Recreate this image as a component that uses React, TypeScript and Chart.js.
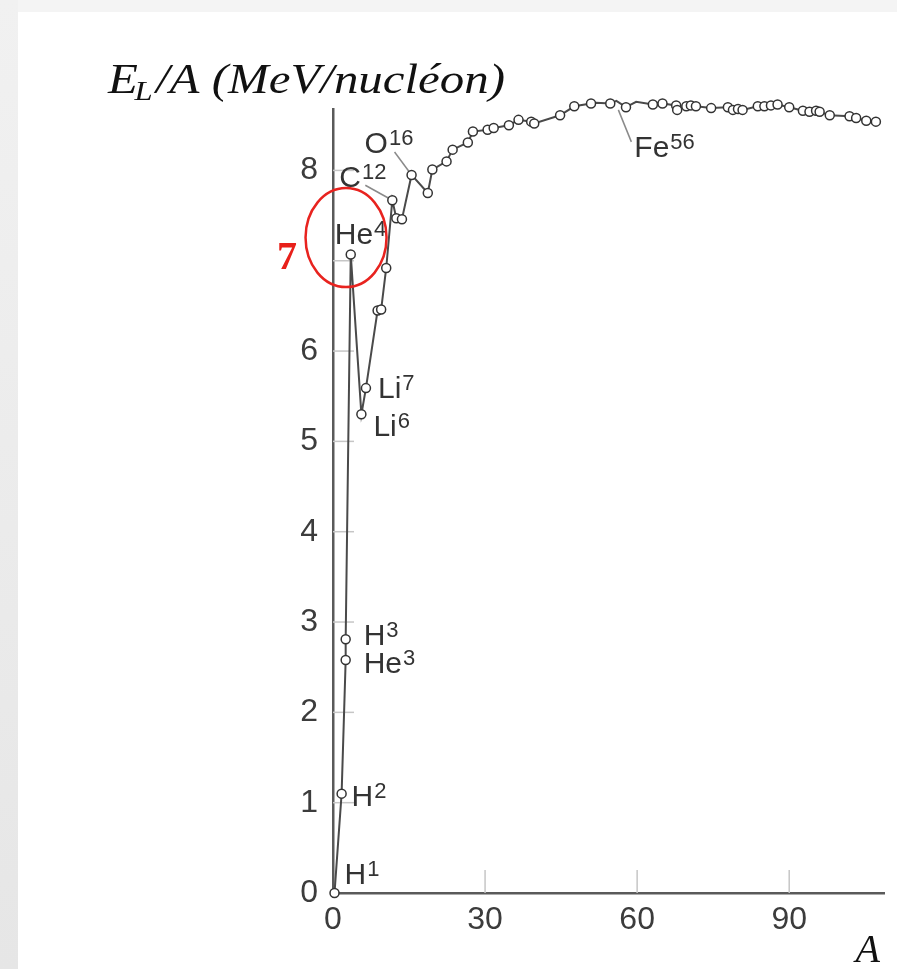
import React, { useEffect, useRef } from "react";
import { Chart, registerables } from "chart.js";

Chart.register(...registerables);

// Mass number A of each plotted nucleus
const massNumberA = [
  0.3, 1.7, 2.5, 2.5, 3.5, 5.6, 6.5, 8.8, 9.5, 10.5,
  11.7, 12.5, 13.6, 15.5, 18.7, 19.6, 22.4, 23.6, 26.6, 27.6,
  30.5, 31.7, 34.7, 36.6, 39.1, 39.7, 44.8, 47.6, 50.9, 51.9,
  54.7, 55.9, 57.8, 59.8, 63.1, 64.1, 65.0, 67.7, 67.9, 69.7,
  70.6, 71.6, 74.6, 77.9, 78.9, 79.9, 80.8, 83.8, 85.1, 86.4,
  87.7, 90.0, 92.7, 94.0, 95.3, 96.0, 98.0, 101.9, 103.2, 105.2,
  107.1,
];

// Binding energy per nucleon E_L/A (MeV)
const bindingPerNucleon = [
  0.0, 1.1, 2.58, 2.81, 7.07, 5.3, 5.59, 6.45, 6.46, 6.92,
  7.67, 7.47, 7.46, 7.95, 7.75, 8.01, 8.1, 8.23, 8.31, 8.43,
  8.45, 8.47, 8.5, 8.56, 8.54, 8.52, 8.61, 8.71, 8.74, 8.75,
  8.74, 8.77, 8.7, 8.76, 8.73, 8.75, 8.74, 8.72, 8.67, 8.71,
  8.72, 8.71, 8.69, 8.7, 8.67, 8.68, 8.67, 8.71, 8.71, 8.72,
  8.73, 8.7, 8.66, 8.65, 8.66, 8.65, 8.61, 8.6, 8.58, 8.55,
  8.54,
];

const yTickValues = [0, 1, 2, 3, 4, 5, 6, 7, 8];
const yTickLabels = ["0", "1", "2", "3", "4", "5", "6", "", "8"];
const xTickValues = [0, 30, 60, 90];
const xTickLabels = ["0", "30", "60", "90"];

const nuclideKeys = ["H1", "H2", "H3", "He3", "He4", "Li6", "Li7", "C12", "O16", "Fe56"];
const nuclideSymbols = ["H", "H", "H", "He", "He", "Li", "Li", "C", "O", "Fe"];
const nuclideMasses = ["1", "2", "3", "3", "4", "6", "7", "12", "16", "56"];
const nuclidePointIndex = [0, 1, 3, 2, 4, 5, 6, 10, 13, 31];

const titleMain = "E";
const titleSub = "L";
const titleRest = "/A (MeV/nucléon)";
const xAxisTitle = "A";
const highlightedValue = 7;
const highlightedLabel = "7";

const labelOffsets: Record<string, [number, number]> = {
  H1: [10, -9],
  H2: [10, 12],
  H3: [18, 6],
  He3: [18, 13],
  He4: [-16, -10],
  Li6: [12, 22],
  Li7: [12, 10],
  C12: [-53, -13],
  O16: [-47, -22],
  Fe56: [18, 56],
};

const leaderOffsets: Record<string, [number, number, number, number]> = {
  C12: [-27, -15, 0, 0],
  O16: [-17, -23, 0, 0],
  Fe56: [2, 9, 15, 41],
};

export default function App() {
  const ref = useRef<HTMLCanvasElement>(null);

  useEffect(() => {
    const canvas = ref.current;
    if (!canvas) return;
    const points = massNumberA.map((a, i) => ({ x: a, y: bindingPerNucleon[i] }));

    const pointPixel = (chart: any, idx: number) => {
      const xs = chart.scales.x;
      const ys = chart.scales.y;
      return [xs.getPixelForValue(massNumberA[idx]), ys.getPixelForValue(bindingPerNucleon[idx])];
    };

    const under = {
      id: "under",
      beforeDatasetsDraw(chart: any) {
        const ctx = chart.ctx;
        const area = chart.chartArea;
        const xs = chart.scales.x;
        const ys = chart.scales.y;
        ctx.save();
        ctx.strokeStyle = "#c6c6c6";
        ctx.lineWidth = 1.5;
        yTickValues.forEach((v) => {
          if (v === 0) return;
          const y = ys.getPixelForValue(v);
          ctx.beginPath();
          ctx.moveTo(area.left, y);
          ctx.lineTo(area.left + 21, y);
          ctx.stroke();
        });
        xTickValues.forEach((v) => {
          if (v === 0) return;
          const x = xs.getPixelForValue(v);
          ctx.beginPath();
          ctx.moveTo(x, area.bottom);
          ctx.lineTo(x, area.bottom - 23);
          ctx.stroke();
        });
        // leader lines
        ctx.strokeStyle = "#8a8a8a";
        ctx.lineWidth = 1.5;
        nuclideKeys.forEach((k, i) => {
          const lo = leaderOffsets[k];
          if (!lo) return;
          const [px, py] = pointPixel(chart, nuclidePointIndex[i]);
          ctx.beginPath();
          ctx.moveTo(px + lo[0], py + lo[1]);
          ctx.lineTo(px + lo[2], py + lo[3]);
          ctx.stroke();
        });
        ctx.restore();
      },
    };

    const annot = {
      id: "annot",
      afterDatasetsDraw(chart: any) {
        const ctx = chart.ctx;
        const ys = chart.scales.y;
        const area = chart.chartArea;
        ctx.save();
        ctx.fillStyle = "#333";
        ctx.textBaseline = "alphabetic";
        ctx.textAlign = "left";
        nuclideKeys.forEach((k, i) => {
          const [px, py] = pointPixel(chart, nuclidePointIndex[i]);
          const off = labelOffsets[k];
          const x = px + off[0];
          const y = py + off[1];
          ctx.font = "30px 'Liberation Sans', Arial, sans-serif";
          ctx.fillText(nuclideSymbols[i], x, y);
          const w = ctx.measureText(nuclideSymbols[i]).width;
          ctx.font = "22px 'Liberation Sans', Arial, sans-serif";
          ctx.fillText(nuclideMasses[i], x + w + 1, y - 8);
        });

        // red ellipse around He4
        const [hx, hy] = pointPixel(chart, 4);
        ctx.strokeStyle = "#e8231f";
        ctx.lineWidth = 2.5;
        ctx.beginPath();
        ctx.ellipse(hx - 4.7, hy - 16.8, 40.5, 49.5, 0, 0, Math.PI * 2);
        ctx.stroke();

        // red highlighted tick value
        ctx.fillStyle = "#e8201a";
        ctx.font = "bold 40px 'Liberation Serif', 'Times New Roman', serif";
        ctx.textAlign = "right";
        ctx.fillText(highlightedLabel, area.left - 36, ys.getPixelForValue(highlightedValue) + 8);

        // y axis title
        ctx.fillStyle = "#111";
        ctx.textAlign = "left";
        const mainFont = "italic 42px 'Liberation Serif', 'Times New Roman', serif";
        const subFont = "italic 28px 'Liberation Serif', 'Times New Roman', serif";
        ctx.font = mainFont;
        const wE = ctx.measureText(titleMain).width;
        const wR = ctx.measureText(titleRest).width;
        ctx.font = subFont;
        const wL = ctx.measureText(titleSub).width;
        const total = wE + wL + wR;
        const sx = 397 / total;
        ctx.translate(108, 93);
        ctx.scale(sx, 1);
        ctx.font = mainFont;
        ctx.fillText(titleMain, 0, 0);
        ctx.font = subFont;
        ctx.fillText(titleSub, wE - 3, 7);
        ctx.font = mainFont;
        ctx.fillText(titleRest, wE + wL, 0);
        ctx.restore();

        // x axis title
        ctx.save();
        ctx.fillStyle = "#111";
        ctx.textAlign = "right";
        ctx.font = "italic 40px 'Liberation Serif', 'Times New Roman', serif";
        ctx.fillText(xAxisTitle, 880, 962);
        ctx.restore();
      },
    };

    const tickFont = { family: "'Liberation Sans', Arial, sans-serif", size: 32 };

    const chart = new Chart(canvas, {
      type: "scatter",
      data: {
        datasets: [
          {
            data: points,
            showLine: true,
            borderColor: "#4a4a4a",
            borderWidth: 2,
            pointRadius: 4.5,
            pointBorderWidth: 1.5,
            pointBorderColor: "#333",
            pointBackgroundColor: "#fff",
            clip: false as any,
            tension: 0,
          } as any,
        ],
      },
      options: {
        responsive: false,
        animation: false,
        events: [],
        layout: { padding: { left: 0, top: 109, right: 13, bottom: 0 } },
        plugins: { legend: { display: false }, tooltip: { enabled: false }, title: { display: false } },
        scales: {
          x: {
            type: "linear",
            min: 0,
            max: 108.7,
            afterFit: (s: any) => {
              s.height = 76;
            },
            afterBuildTicks: (s: any) => {
              s.ticks = xTickValues.map((v) => ({ value: v }));
            },
            ticks: {
              font: tickFont,
              color: "#3c3c3c",
              padding: 8,
              maxRotation: 0,
              autoSkip: false,
              callback: (_v: any, i: number) => xTickLabels[i],
            },
            grid: { display: false, drawTicks: false },
            border: { display: true, color: "#5a5a5a", width: 2.5 },
          },
          y: {
            type: "linear",
            min: 0,
            max: 8.68,
            afterFit: (s: any) => {
              s.width = 333;
            },
            afterBuildTicks: (s: any) => {
              s.ticks = yTickValues.map((v) => ({ value: v }));
            },
            ticks: {
              font: tickFont,
              color: "#3c3c3c",
              padding: 15,
              autoSkip: false,
              callback: (_v: any, i: number) => yTickLabels[i],
            },
            grid: { display: false, drawTicks: false },
            border: { display: true, color: "#5a5a5a", width: 2.5 },
          },
        },
      },
      plugins: [under, annot],
    });
    return () => chart.destroy();
  }, []);

  return (
    <div style={{ position: "fixed", left: 0, top: 0, width: 897, height: 969, background: "#fff", overflow: "hidden" }}>
      <div style={{ position: "absolute", left: 0, top: 0, width: 897, height: 12, background: "#f4f4f4" }} />
      <div
        style={{
          position: "absolute",
          left: 0,
          top: 0,
          width: 18,
          height: 969,
          background: "linear-gradient(#f1f1f1, #e6e6e6)",
        }}
      />
      <canvas ref={ref} width={897} height={969} style={{ position: "absolute", left: 0, top: 0 }} />
    </div>
  );
}
